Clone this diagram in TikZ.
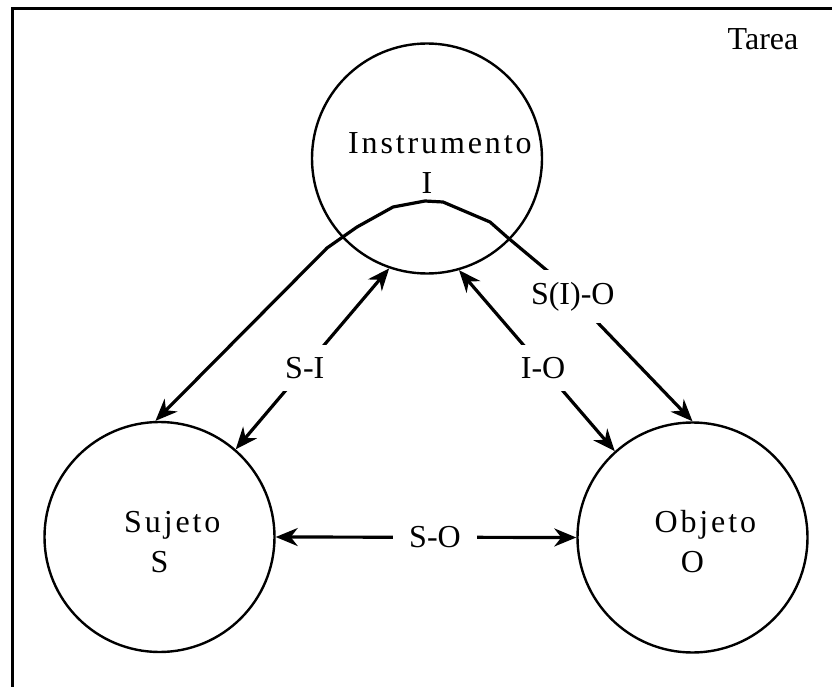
\documentclass[tikz,border=0pt]{standalone}
\usepackage{fontspec}
\setmainfont{Liberation Serif}
\usetikzlibrary{arrows.meta}
\newcommand{\spaced}[1]{\hspace*{0.8em}\rule{0pt}{0.95em}{\addfontfeature{LetterSpace=9}#1}}

\begin{document}
\begin{tikzpicture}[x=1pt,y=-1pt,>={Stealth[length=22pt,width=18pt,inset=7pt]},
  actor/.style={draw,circle,line width=2.4pt,minimum size=230pt,inner sep=0pt,align=center,font=\fontsize{32}{40}\selectfont},
  rel/.style={<->,line width=3.2pt,line join=round},
  lbl/.style={fill=white,inner xsep=16pt,inner ysep=12pt,font=\fontsize{32}{40}\selectfont}]
  \useasboundingbox (0,0) rectangle (832,687);
  \clip (0,0) rectangle (832,687);
  \draw[line width=3pt] (12,9) rectangle (860,720);
  \node (T) [anchor=base,font=\fontsize{32}{40}\selectfont] at (763,50) {Tarea};
  \node[actor] (I) at (427,158.5) {\spaced{Instrumento}\\I};
  \node[actor] (S) at (159.5,537) {\spaced{Sujeto}\\S};
  \node[actor] (O) at (692.5,537.5) {\spaced{Objeto}\\O};
  \coordinate (p1) at (327,248);
  \coordinate (p2) at (357,227);
  \coordinate (p3) at (393,207);
  \coordinate (p4) at (425,201);
  \coordinate (p5) at (443,202);
  \coordinate (p6) at (490,222);
  \coordinate (p7) at (507,237);
  \coordinate (p8) at (550,273);
  \draw[rel] (S.east) -- node[lbl,pos=0.53] {S-O} (O.west);
  \draw[rel] (S.49) -- node[lbl,pos=0.45] {S-I} (I.-109);
  \draw[rel] (I.-74) -- node[lbl,pos=0.54] {I-O} (O.132);
  \draw[rel] (S.92) -- (p1) -- (p2) -- (p3) -- (p4) -- (p5) -- (p6) -- (p7) -- (p8) -- node[lbl,pos=0.16] {S(I)-O} (O.north);
\end{tikzpicture}
\end{document}
